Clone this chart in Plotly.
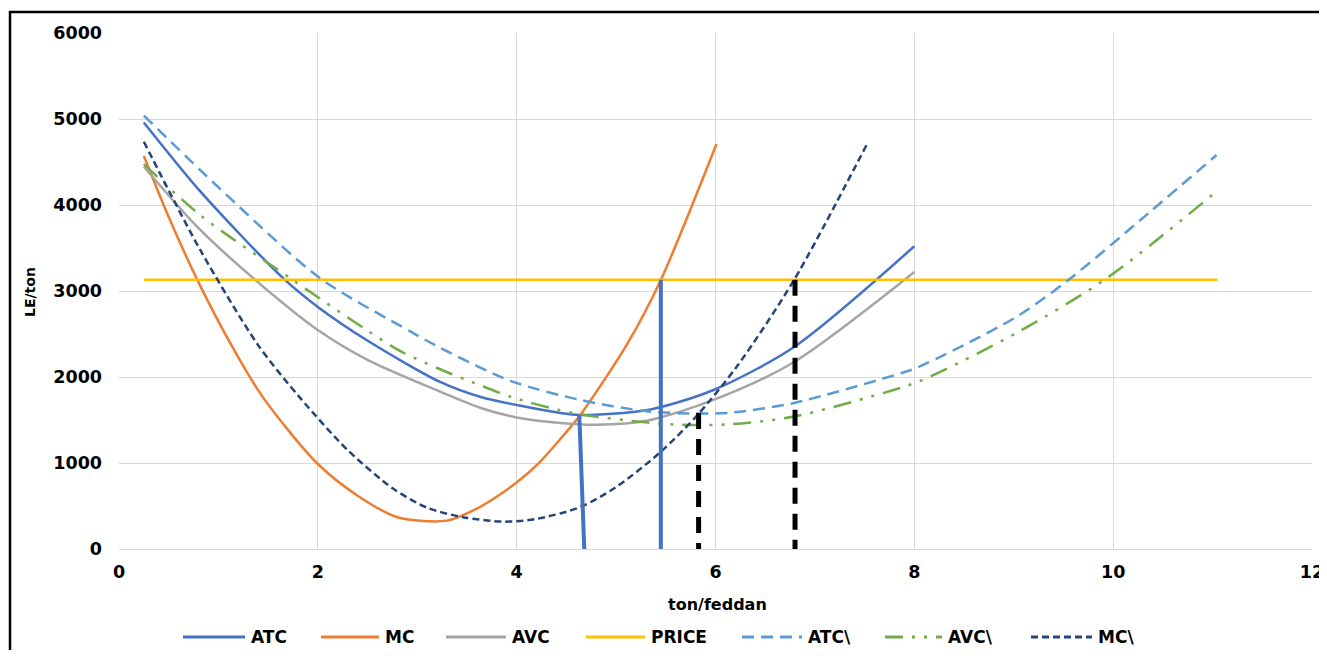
import plotly.graph_objects as go

# ---- data ----
atc_x = [0.25, 0.82, 1.65, 2.0, 2.49, 3.23, 3.64, 4.44, 4.64, 5.32, 5.98, 6.79, 8.0]
atc_y = [4960, 4155, 3150, 2815, 2430, 1942, 1767, 1581, 1558, 1616, 1849, 2349, 3520]

mc_x = [0.25, 0.5, 0.8, 1.14, 1.45, 1.99, 2.4, 2.8, 3.3, 3.6, 3.84, 4.04, 4.24, 4.44, 4.64, 5.12, 5.45, 6.01]
mc_y = [4570, 3860, 3100, 2350, 1760, 1000, 620, 370, 330, 470, 640, 810, 1020, 1280, 1558, 2400, 3128, 4709]

avc_x = [0.25, 0.8, 1.35, 2.0, 2.5, 3.23, 3.64, 4.0, 4.44, 4.8, 5.32, 5.98, 6.79, 8.0]
avc_y = [4445, 3730, 3150, 2547, 2200, 1830, 1640, 1530, 1465, 1445, 1495, 1733, 2174, 3220]

price_x = [0.25, 11.05]
price_y = [3130, 3130]

atc2_x = [0.25, 0.816, 1.07, 2.02, 2.93, 3.23, 3.95, 4.64, 5.32, 5.82, 6.15, 6.79, 7.87, 8.03, 9.0, 9.55, 10.35, 11.04]
atc2_y = [5040, 4407, 4130, 3150, 2530, 2340, 1950, 1733, 1600, 1575, 1585, 1698, 2046, 2110, 2680, 3128, 3900, 4581]

avc2_x = [0.25, 0.82, 1.72, 2.49, 2.83, 3.23, 3.64, 3.94, 4.34, 4.64, 5.32, 5.65, 6.15, 6.79, 7.79, 8.07, 9.01, 9.95, 11.02]
avc2_y = [4475, 3880, 3150, 2547, 2300, 2090, 1900, 1770, 1640, 1565, 1470, 1445, 1450, 1540, 1849, 1960, 2500, 3160, 4140]

mc2_x = [0.25, 0.816, 1.4, 1.82, 2.3, 2.76, 3.1, 3.46, 3.87, 4.2, 4.64, 5.0, 5.45, 5.82, 6.22, 6.79, 7.53]
mc2_y = [4736, 3480, 2370, 1760, 1150, 700, 480, 370, 318, 350, 488, 720, 1130, 1560, 2130, 3128, 4721]

# vertical guide lines
blue_v1_x = [4.63, 4.68]
blue_v1_y = [1558, 0]
blue_v2_x = [5.45, 5.45]
blue_v2_y = [3130, 0]
black_v1_x = [5.83, 5.83]
black_v1_y = [1580, 0]
black_v2_x = [6.8, 6.8]
black_v2_y = [3130, 0]

x_ticks = [0, 2, 4, 6, 8, 10, 12]
y_ticks = [0, 1000, 2000, 3000, 4000, 5000, 6000]

legend_names = ["ATC", "MC", "AVC", "PRICE", "ATC\\", "AVC\\", "MC\\"]
legend_colors = ["#4472C4", "#ED7D31", "#A5A5A5", "#FFC000", "#5B9BD5", "#70AD47", "#264478"]
legend_dashes = ["solid", "solid", "solid", "solid", "12px,7px", "18px,9px,3px,9px,3px,9px", "7px,4px"]

FONT = "DejaVu Sans, Liberation Sans, Arial, sans-serif"

# page geometry (the HTML body adds an 8px margin)
W, H = 1319, 642
ML, MR, MT, MB = 111, 15, 25, 101
PX0, PY0 = 8 + ML, 8 + MT
PW, PH = W - ML - MR, H - MT - MB
def px2x(px):
    return (px - PX0) / PW
def py2y(py):
    return (PY0 + PH - py) / PH

fig = go.Figure()

def add(x, y, name, color, dash="solid", width=2.5, shape="spline"):
    fig.add_trace(go.Scatter(
        x=x, y=y, name=name, mode="lines",
        line=dict(color=color, width=width, dash=dash, shape=shape,
                  smoothing=0.8 if shape == "spline" else None),
        showlegend=False, hoverinfo="skip"))

series = [(atc_x, atc_y), (mc_x, mc_y), (avc_x, avc_y), (price_x, price_y),
          (atc2_x, atc2_y), (avc2_x, avc2_y), (mc2_x, mc2_y)]
for (sx, sy), nm, col, ds in zip(series, legend_names, legend_colors, legend_dashes):
    add(sx, sy, nm, col, dash=ds, shape="linear" if nm == "PRICE" else "spline")

add(blue_v1_x, blue_v1_y, "v1", "#4472C4", width=4, shape="linear")
add(blue_v2_x, blue_v2_y, "v2", "#4472C4", width=4, shape="linear")
add(black_v1_x, black_v1_y, "v3", "#000000", dash="16px,10px", width=5, shape="linear")
add(black_v2_x, black_v2_y, "v4", "#000000", dash="16px,10px", width=5, shape="linear")

# custom legend (line samples + labels), positions in page pixels
legend_line_px = [(183, 245), (321, 379), (446, 506), (586, 645), (742, 802), (885, 942), (1031, 1092)]
legend_py = 637
shapes = [dict(type="rect", xref="paper", yref="paper",
               x0=px2x(10), x1=1.05, y0=-0.4, y1=py2y(12),
               line=dict(color="black", width=2.5), fillcolor="rgba(0,0,0,0)", layer="below")]
annotations = []
for (a, b), nm, col, ds in zip(legend_line_px, legend_names, legend_colors, legend_dashes):
    shapes.append(dict(type="line", xref="paper", yref="paper",
                       x0=px2x(a), x1=px2x(b), y0=py2y(legend_py), y1=py2y(legend_py),
                       line=dict(color=col, width=3, dash=ds)))
    annotations.append(dict(text=nm, xref="paper", yref="paper", x=px2x(b + 4), y=py2y(legend_py),
                            xanchor="left", yanchor="middle", showarrow=False,
                            font=dict(family=FONT, size=17, color="#000", weight="bold")))
annotations.append(dict(text="ton/feddan", xref="paper", yref="paper", x=px2x(717), y=py2y(604),
                        xanchor="center", yanchor="middle", showarrow=False,
                        font=dict(family=FONT, size=16, color="#000", weight="bold")))
annotations.append(dict(text="LE/ton", xref="paper", yref="paper", x=px2x(30), y=py2y(292),
                        xanchor="center", yanchor="middle", showarrow=False, textangle=-90,
                        font=dict(family=FONT, size=14, color="#000", weight="bold")))

fig.update_layout(
    width=W, height=H,
    margin=dict(l=ML, r=MR, t=MT, b=MB, autoexpand=False),
    paper_bgcolor="white", plot_bgcolor="white",
    font=dict(family=FONT, size=14, color="#000000"),
    showlegend=False,
    shapes=shapes, annotations=annotations,
)
fig.update_xaxes(range=[0, 12], tickvals=x_ticks, ticktext=[str(v) for v in x_ticks],
                 showgrid=True, gridcolor="#D9D9D9", gridwidth=1, zeroline=False,
                 showline=True, linecolor="#D9D9D9", linewidth=1, automargin=False,
                 tickfont=dict(family=FONT, size=17.5, weight="bold", color="#000"), ticks="",
                 ticklabelstandoff=7)
fig.update_yaxes(range=[0, 6000], tickvals=y_ticks, ticktext=[str(v) for v in y_ticks],
                 showgrid=True, gridcolor="#D9D9D9", gridwidth=1, zeroline=False,
                 showline=False, automargin=False,
                 tickfont=dict(family=FONT, size=17.5, weight="bold", color="#000"), ticks="",
                 ticklabelstandoff=16)

fig.write_html("out.html")
